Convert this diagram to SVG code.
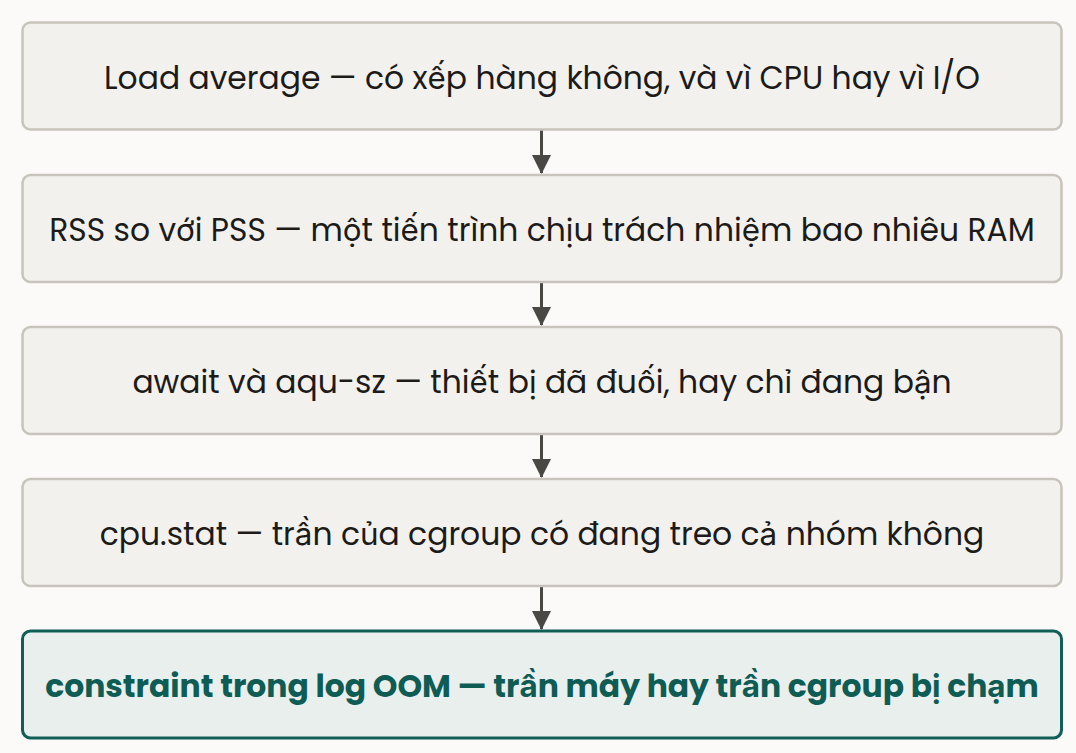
<svg xmlns="http://www.w3.org/2000/svg" width="1076" height="753" viewBox="0 0 1076 753">
<defs>
<style>
.box{fill:#f2f1ee;stroke:#c9c4bb;stroke-width:2.5}
.hl{fill:#e9efed;stroke:#115e57;stroke-width:3}
.t{font-family:"Poppins","Inter","Noto Sans",sans-serif;font-size:31.4px;fill:#1c1b19;text-anchor:middle}
.tb{font-family:"Poppins","Inter","Noto Sans",sans-serif;font-size:31.4px;font-weight:700;fill:#0f5c55;text-anchor:middle}
.c{stroke:#4a4845;stroke-width:3;fill:none}
</style>
<marker id="ah" markerUnits="userSpaceOnUse" markerWidth="20" markerHeight="22" refX="18" refY="9.5" orient="auto">
<path d="M0,0 L19,9.5 L0,19 Z" fill="#4a4845"/>
</marker>
</defs>
<rect width="1076" height="753" fill="#fbfaf8"/>
<g id="connectors">
<line class="c" x1="541.5" y1="130" x2="541.5" y2="173" marker-end="url(#ah)"/>
<line class="c" x1="541.5" y1="283" x2="541.5" y2="325" marker-end="url(#ah)"/>
<line class="c" x1="541.5" y1="435" x2="541.5" y2="477" marker-end="url(#ah)"/>
<line class="c" x1="541.5" y1="587" x2="541.5" y2="629" marker-end="url(#ah)"/>
</g>
<g id="n1"><rect class="box" x="22.5" y="22.5" width="1039" height="107" rx="8"/><text class="t" x="542" y="88.5">Load average — có xếp hàng không, và vì CPU hay vì I/O</text></g>
<g id="n2"><rect class="box" x="22.5" y="175" width="1039" height="107" rx="8"/><text class="t" x="542" y="241">RSS so với PSS — một tiến trình chịu trách nhiệm bao nhiêu RAM</text></g>
<g id="n3"><rect class="box" x="22.5" y="327" width="1039" height="107" rx="8"/><text class="t" x="542" y="393">await và aqu-sz — thiết bị đã đuối, hay chỉ đang bận</text></g>
<g id="n4"><rect class="box" x="22.5" y="479" width="1039" height="107" rx="8"/><text class="t" x="542" y="545">cpu.stat — trần của cgroup có đang treo cả nhóm không</text></g>
<g id="n5"><rect class="hl" x="22.5" y="631" width="1039" height="107" rx="8"/><text class="tb" x="542" y="697">constraint trong log OOM — trần máy hay trần cgroup bị chạm</text></g>
</svg>
